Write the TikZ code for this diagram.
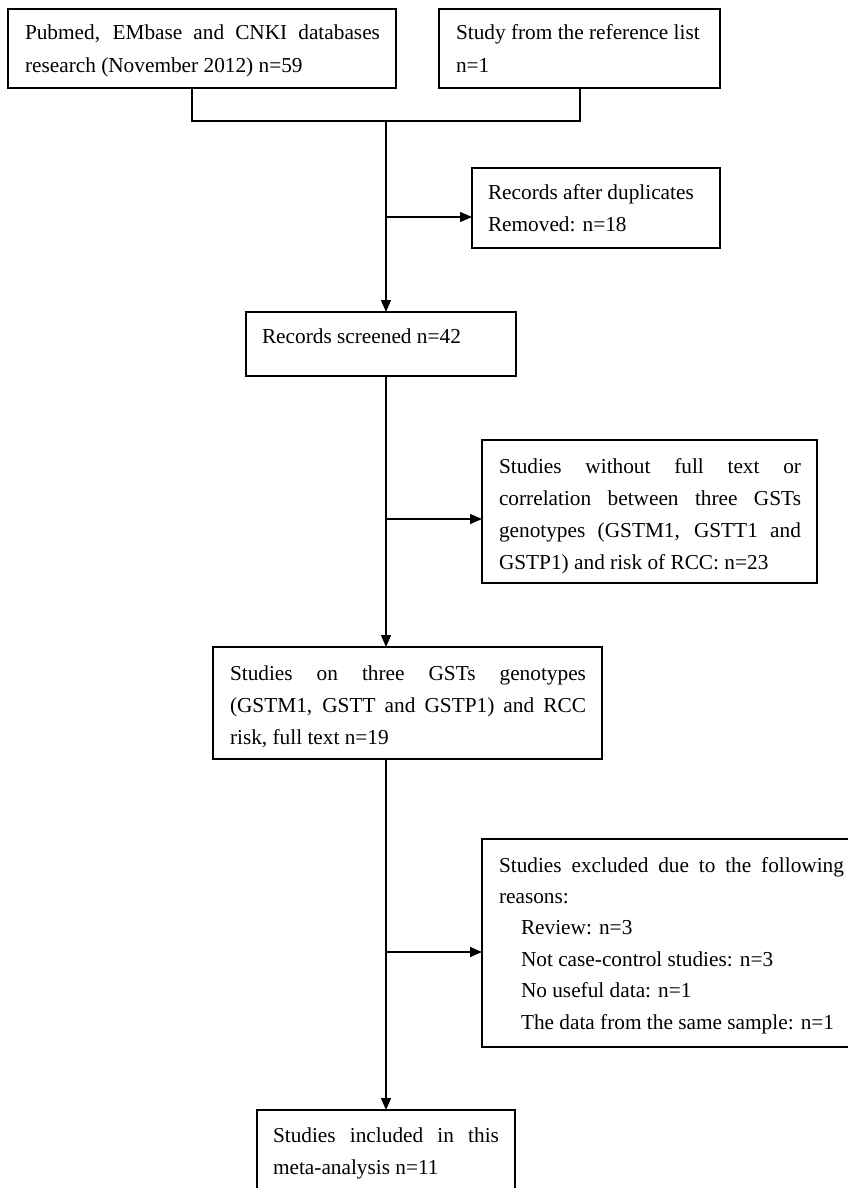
\documentclass[tikz,border=0pt]{standalone}
\usepackage{fontspec}
\setmainfont{Liberation Serif}
\usetikzlibrary{arrows.meta}
\tikzset{
  boxnode/.style={draw=black, line width=1.3pt, rectangle, inner sep=0pt, outer sep=0pt, anchor=north west},
  txt/.style={anchor=base west, inner sep=0pt, outer sep=0pt, font=\fontsize{21.3}{32}\selectfont},
  conn/.style={line width=1.3pt, draw=black},
  arr/.style={conn, -{Triangle[length=12pt,width=10pt]}}
}
\newcommand{\jline}[2]{\makebox[#1pt][s]{#2}}
\begin{document}
\begin{tikzpicture}[x=1pt,y=-1pt]
\useasboundingbox (0,0) rectangle (848,1188);
\clip (0,0) rectangle (848,1188);
\fill[white] (0,0) rectangle (848,1188);

% boxes
\node[boxnode, minimum width=388pt, minimum height=79pt] (b1) at (8,9) {};
\node[boxnode, minimum width=281pt, minimum height=79pt] (b2) at (439,9) {};
\node[boxnode, minimum width=248pt, minimum height=80pt] (b3) at (472,168) {};
\node[boxnode, minimum width=270pt, minimum height=64pt] (b4) at (246,312) {};
\node[boxnode, minimum width=335pt, minimum height=143pt] (b5) at (482,440) {};
\node[boxnode, minimum width=389pt, minimum height=112pt] (b6) at (213,647) {};
\node[boxnode, minimum width=370pt, minimum height=208pt] (b7) at (482,839) {};
\node[boxnode, minimum width=258pt, minimum height=100pt] (b8) at (257,1110) {};

% texts
\node[txt, font=\fontsize{21.3}{33}\selectfont] (t1) at (25,40) {\parbox[t]{380pt}{\jline{355}{Pubmed, EMbase and CNKI databases}\\research (November 2012) n=59}};
\node[txt, font=\fontsize{21.3}{33}\selectfont] (t2) at (456,40) {\parbox[t]{270pt}{Study from the reference list\\n=1}};
\node[txt] (t3) at (488,199) {\parbox[t]{240pt}{Records after duplicates\\Removed: n=18}};
\node[txt] (t4) at (262,343) {\parbox[t]{250pt}{Records screened n=42}};
\node[txt] (t5) at (499,473) {\parbox[t]{320pt}{\jline{302}{Studies without full text or}\\\jline{302}{correlation between three GSTs}\\\jline{302}{genotypes (GSTM1, GSTT1 and}\\GSTP1) and risk of RCC: n=23}};
\node[txt] (t6) at (230,680) {\parbox[t]{370pt}{\jline{356}{Studies on three GSTs genotypes}\\\jline{356}{(GSTM1, GSTT and GSTP1) and RCC}\\risk, full text n=19}};
\node[txt] (t7) at (499,872) {\parbox[t]{360pt}{\fontsize{21.3}{31.4}\selectfont\jline{345}{Studies excluded due to the following}\\reasons:\\\hspace*{22pt}Review: n=3\\\hspace*{22pt}Not case-control studies: n=3\\\hspace*{22pt}No useful data: n=1\\\hspace*{22pt}The data from the same sample: n=1}};
\node[txt] (t8) at (273,1142) {\parbox[t]{240pt}{\jline{226}{Studies included in this}\\meta-analysis n=11}};

% junction coordinates
\coordinate (jl) at (192,121);
\coordinate (jr) at (580,121);
\coordinate (j) at (386,121);
\coordinate (s1) at (386,217);
\coordinate (s2) at (386,519);
\coordinate (s3) at (386,952);

% connectors
\draw[conn] (jl |- b1.south) -- (jl) -- (jr) -- (jr |- b2.south);
\draw[arr] (j) -- (j |- b4.north);
\draw[arr] (s1) -- (s1 -| b3.west);
\draw[arr] (j |- b4.south) -- (j |- b6.north);
\draw[arr] (s2) -- (s2 -| b5.west);
\draw[arr] (j |- b6.south) -- (j |- b8.north);
\draw[arr] (s3) -- (s3 -| b7.west);
\end{tikzpicture}
\end{document}
